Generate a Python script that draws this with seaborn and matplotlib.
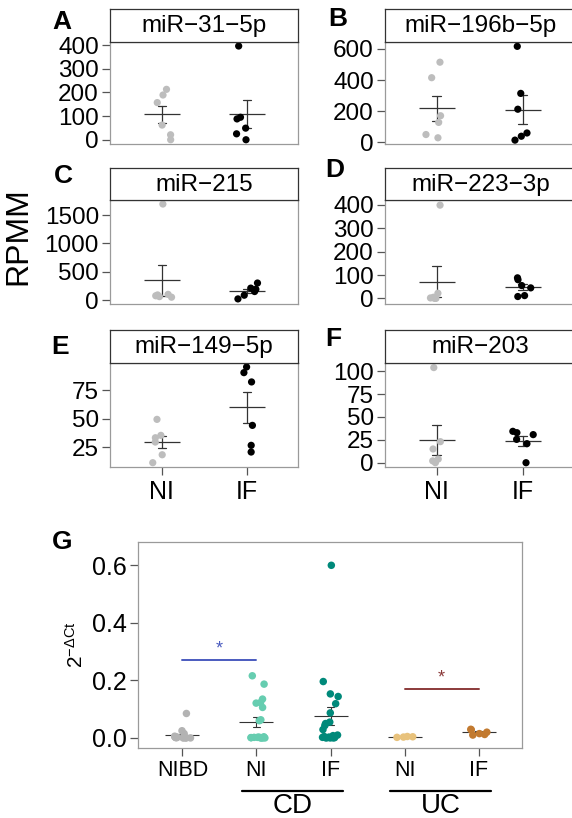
import numpy as np
import pandas as pd
import matplotlib
matplotlib.use('Agg')
import matplotlib.pyplot as plt
import seaborn as sns

# figure size in pixels (dpi 100)
W, H = 572, 818

# --- RPMM panels A-F (NI = grey, IF = black) ---
GROUPS = ['NI', 'IF']
TITLES = ['miR\u221231\u22125p', 'miR\u2212196b\u22125p', 'miR\u2212215',
          'miR\u2212223\u22123p', 'miR\u2212149\u22125p', 'miR\u2212203']
LETTERS = ['A', 'B', 'C', 'D', 'E', 'F']

A_NI = [189, 213, 157, 62, 21, 0]
A_IF = [396, 95, 88, 49, 25, 0]
B_NI = [515, 415, 170, 127, 49, 28]
B_IF = [617, 314, 212, 59, 38, 13]
C_NI = [1694, 100, 90, 75, 60, 50]
C_IF = [300, 210, 190, 150, 85, 20]
D_NI = [399, 22, 5, 2, 0, 0]
D_IF = [88, 80, 55, 45, 12, 8]
E_NI = [49.4, 35.3, 33.2, 29.4, 18.2, 11.2]
E_IF = [95.6, 90.6, 82.4, 44.1, 26.5, 20.6]
F_NI = [104, 23, 15, 4, 2, 0]
F_IF = [34.3, 32.8, 30.7, 25.5, 20.8, 0]

Y_TICKS = [[0, 100, 200, 300, 400], [0, 200, 400, 600], [0, 500, 1000, 1500],
           [0, 100, 200, 300, 400], [25, 50, 75], [0, 25, 50, 75, 100]]
Y_LIMS = [(-18, 413), (-12, 645), (-70, 1765), (-24, 421), (7.4, 99.1), (-4.7, 109)]

# --- panel G: 2^-dCt ---
G_KEYS = ['NIBD', 'CD_NI', 'CD_IF', 'UC_NI', 'UC_IF']
G_LABELS = ['NIBD', 'NI', 'IF', 'NI', 'IF']
G_NIBD = [0.085, 0.025, 0.015, 0.006, 0.004, 0.003, 0.002, 0.002, 0.001, 0.001,
          0.001, 0.0, 0.0, 0.0, 0.0]
G_CD_NI = [0.216, 0.187, 0.135, 0.123, 0.121, 0.106, 0.063, 0.06,
           0.004, 0.003, 0.002, 0.002, 0.001, 0.001, 0.0, 0.0, 0.0, 0.0]
G_CD_IF = [0.6, 0.196, 0.153, 0.144, 0.119, 0.087, 0.055, 0.05, 0.043, 0.029,
           0.01, 0.008, 0.005, 0.003, 0.002, 0.001, 0.001, 0.0, 0.0, 0.0]
G_UC_NI = [0.005, 0.004, 0.003, 0.002]
G_UC_IF = [0.03, 0.028, 0.02, 0.015, 0.012, 0.01]
G_COLORS = ['#b3b3b3', '#66cdb0', '#00897a', '#e8c27c', '#c27a30']
SIG_CD = ('NIBD', 'CD_NI', 0.27)
SIG_UC = ('UC_NI', 'UC_IF', 0.17)

FONT = ['Liberation Sans', 'DejaVu Sans']


def px_box(left, top, right, bottom):
    return [left / W, 1 - bottom / H, (right - left) / W, (bottom - top) / H]


def px_pt(x, y):
    return x / W, 1 - y / H


def style_axis(ax, ylab_size, xlab_size, show_x=True):
    for s in ax.spines.values():
        s.set_color('#9a9a9a')
        s.set_linewidth(0.9)
    ax.tick_params(axis='y', left=True, length=6, width=0.9, color='#555555',
                   labelsize=ylab_size, labelcolor='black', pad=2)
    if show_x:
        ax.tick_params(axis='x', bottom=True, length=6, width=0.9, color='#555555',
                       labelsize=xlab_size, labelcolor='black', pad=3)
    else:
        ax.tick_params(axis='x', bottom=False, labelbottom=False)


def draw_panel(fig, idx, ni, iff, box, strip_top, show_x):
    left, top, right, bottom = box
    ax = fig.add_axes(px_box(left, top, right, bottom))
    df = pd.DataFrame({'group': ['NI'] * len(ni) + ['IF'] * len(iff),
                       'value': list(ni) + list(iff)})
    sns.stripplot(data=df, x='group', y='value', order=GROUPS, hue='group',
                  palette={'NI': '#bdbdbd', 'IF': '#000000'}, legend=False,
                  jitter=0.13, size=5.2, linewidth=0, ax=ax)
    sns.pointplot(data=df, x='group', y='value', order=GROUPS, errorbar='se',
                  color='#333333', marker='_', markersize=26, markeredgewidth=0.9,
                  linestyle='none', capsize=0.1, err_kws={'linewidth': 0.9}, ax=ax)
    ax.set_xlim(-0.61, 1.6)
    ax.set_ylim(*Y_LIMS[idx])
    ax.set_yticks(Y_TICKS[idx])
    ax.set_xlabel('')
    ax.set_ylabel('')
    style_axis(ax, 17.5, 18, show_x)

    # strip with the miRNA name
    sax = fig.add_axes(px_box(left, strip_top, right, top))
    sax.set_xticks([])
    sax.set_yticks([])
    sax.set_facecolor('white')
    for s in sax.spines.values():
        s.set_color('#333333')
        s.set_linewidth(0.9)
    sax.text(0.5, 0.47, TITLES[idx], ha='center', va='center', fontsize=17.5,
             transform=sax.transAxes)
    return ax


def main():
    np.random.seed(3)
    sns.set_theme(style='white')
    plt.rcParams['font.family'] = FONT
    plt.rcParams['mathtext.default'] = 'regular'
    plt.rcParams['text.color'] = 'black'

    fig = plt.figure(figsize=(W / 100, H / 100), dpi=100)

    rows = [(9, 42, 144), (168, 200, 304), (330, 363, 467)]
    cols = [(110, 298), (385, 576)]
    data = [(A_NI, A_IF), (B_NI, B_IF), (C_NI, C_IF), (D_NI, D_IF), (E_NI, E_IF), (F_NI, F_IF)]
    letter_pos = [(62, 22), (338, 19), (63, 176), (335, 170), (60, 347), (333, 339)]
    for i, (ni, iff) in enumerate(data):
        r, c = divmod(i, 2)
        st, tp, bt = rows[r]
        lf, rt = cols[c]
        ax = draw_panel(fig, i, ni, iff, (lf, tp, rt, bt), st, r == 2)
        if c == 1:
            ax.set_xlim(-0.6, 1.62)
        x, y = px_pt(*letter_pos[i])
        fig.text(x, y, LETTERS[i], fontsize=19, fontweight='bold', ha='center', va='center')

    x, y = px_pt(18, 236)
    fig.text(x, y, 'RPMM', fontsize=23, rotation=90, ha='center', va='center')

    # panel G
    gax = fig.add_axes(px_box(138, 542, 522, 748))
    values = [G_NIBD, G_CD_NI, G_CD_IF, G_UC_NI, G_UC_IF]
    gdf = pd.DataFrame({'group': [k for k, v in zip(G_KEYS, values) for _ in v],
                        'value': [x for v in values for x in v]})
    sns.stripplot(data=gdf, x='group', y='value', order=G_KEYS, hue='group',
                  palette=dict(zip(G_KEYS, G_COLORS)), legend=False,
                  jitter=0.12, size=5.4, linewidth=0, ax=gax)
    sns.pointplot(data=gdf, x='group', y='value', order=G_KEYS, errorbar='se',
                  color='#333333', marker='_', markersize=24, markeredgewidth=0.8,
                  linestyle='none', capsize=0.1, err_kws={'linewidth': 0.8}, ax=gax)
    gax.set_xlim(-0.6, 4.585)
    gax.set_ylim(-0.035, 0.681)
    gax.set_yticks([0.0, 0.2, 0.4, 0.6])
    gax.set_yticklabels(['0.0', '0.2', '0.4', '0.6'])
    gax.set_xticks(range(len(G_KEYS)))
    gax.set_xticklabels(G_LABELS)
    gax.set_xlabel('')
    gax.set_ylabel('$2^{-\\Delta Ct}$', fontsize=15, labelpad=4, color='black')
    style_axis(gax, 18, 15.5)

    # significance bars
    for (a, b, yv), col in [(SIG_CD, '#4a5bbf'), (SIG_UC, '#8b3a3a')]:
        xa, xb = G_KEYS.index(a), G_KEYS.index(b)
        gax.plot([xa, xb], [yv, yv], color=col, lw=1.4)
        gax.text((xa + xb) / 2, yv + 0.01, '*', color=col, ha='center', va='bottom', fontsize=13)

    # group brackets under the axis
    for x0, x1, lab in [(242, 343, 'CD'), (390, 491, 'UC')]:
        fig.add_artist(plt.Line2D([x0 / W, x1 / W], [1 - 791 / H] * 2, color='black', lw=1.6))
        x, y = px_pt((x0 + x1) / 2, 806)
        fig.text(x, y, lab, fontsize=20, ha='center', va='center')

    x, y = px_pt(62, 542)
    fig.text(x, y, 'G', fontsize=19, fontweight='bold', ha='center', va='center')

    fig.savefig('out.png', dpi=100)


if __name__ == '__main__':
    main()
